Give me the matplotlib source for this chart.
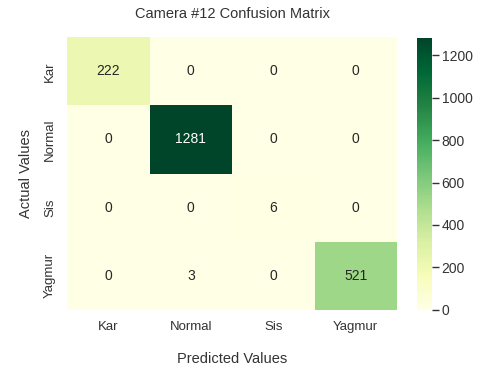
import numpy as np
import matplotlib
matplotlib.use("Agg")
import matplotlib.pyplot as plt
import seaborn as sns

classes = ["Kar", "Normal", "Sis", "Yagmur"]
kar = [222, 0, 0, 0]
normal = [0, 1281, 0, 0]
sis = [0, 0, 6, 0]
yagmur = [0, 3, 0, 521]

cm = np.array([kar, normal, sis, yagmur])

sns.set_theme(style="white")
plt.rcParams["font.family"] = ["Liberation Sans", "DejaVu Sans"]
plt.rcParams["text.color"] = "#333333"
plt.rcParams["axes.labelcolor"] = "#333333"
plt.rcParams["xtick.color"] = "#333333"
plt.rcParams["ytick.color"] = "#333333"

fig = plt.figure(figsize=(4.8, 3.72), dpi=100)
ax = fig.add_axes([0.14, 0.167, 0.687, 0.733])
cax = fig.add_axes([0.869, 0.167, 0.031, 0.731])

sns.heatmap(cm, annot=True, fmt="d", cmap="YlGn", ax=ax, cbar_ax=cax,
            annot_kws={"size": 10},
            xticklabels=classes, yticklabels=classes)

ax.set_title("Camera #12 Confusion Matrix", fontsize=10.5, pad=14)
ax.set_xlabel("Predicted Values", fontsize=10.5, labelpad=14)
ax.set_ylabel("Actual Values", fontsize=10.5, labelpad=8)
ax.tick_params(axis="both", labelsize=9.5, length=0, pad=8)
plt.setp(ax.get_yticklabels(), rotation=90, va="center")
plt.setp(ax.get_xticklabels(), rotation=0)

cax.tick_params(labelsize=10, length=5, width=1, colors="#333333", pad=2)
cax.set_yticks([0, 200, 400, 600, 800, 1000, 1200])

fig.savefig("out.png", dpi=100)
